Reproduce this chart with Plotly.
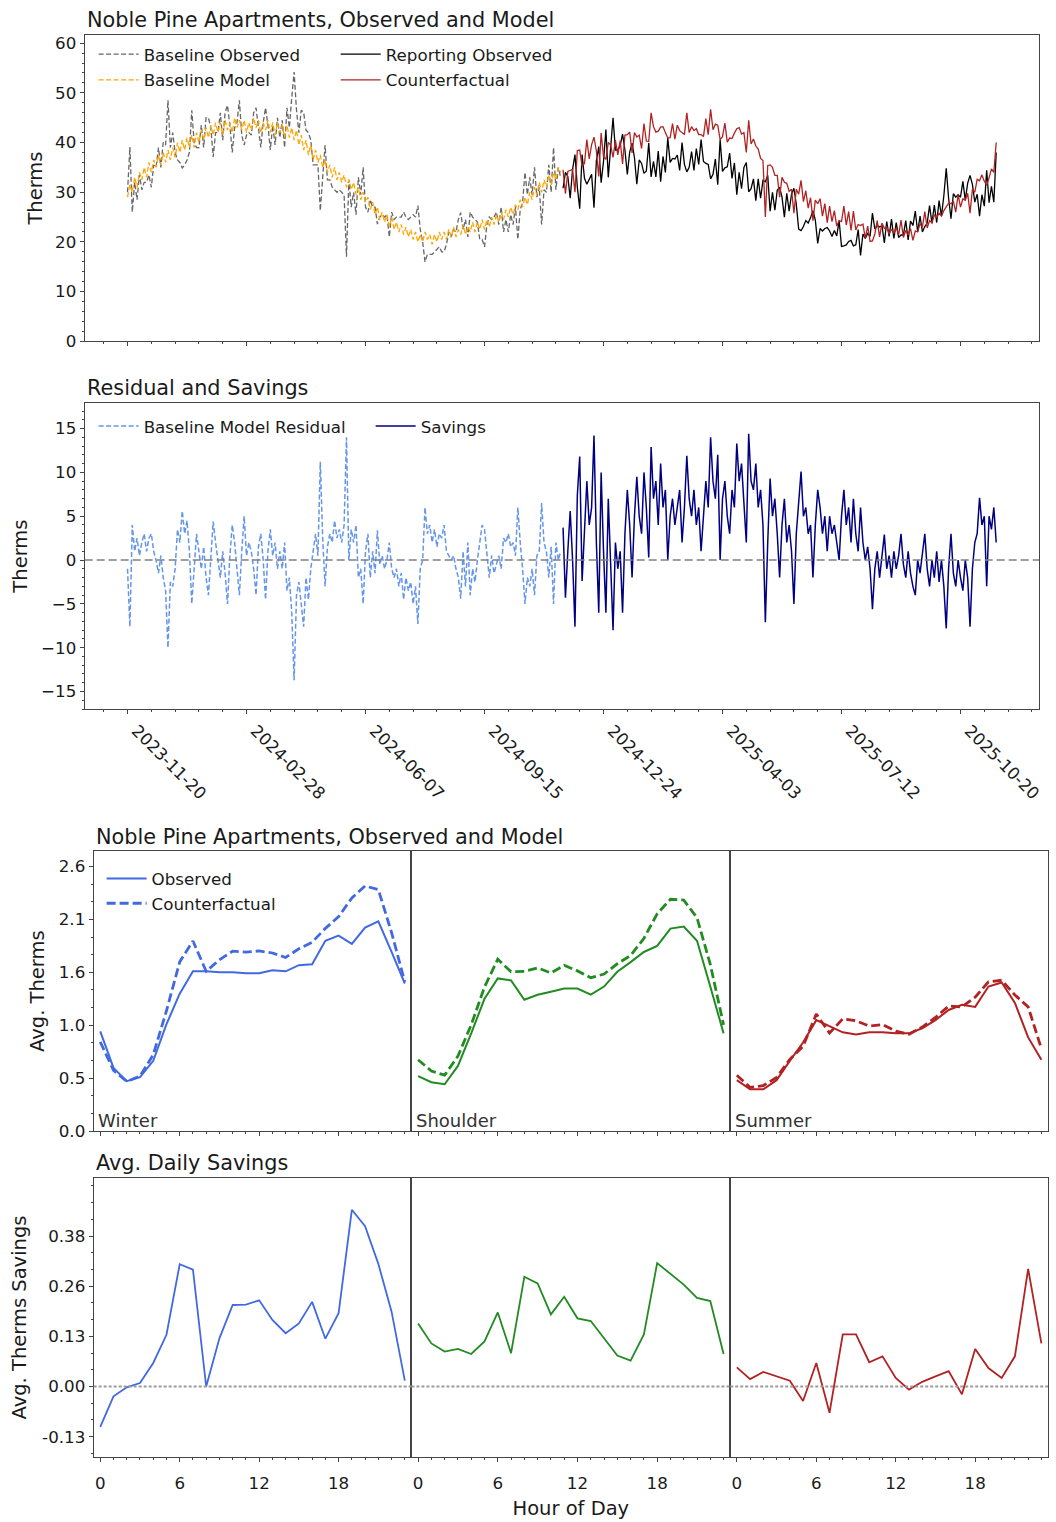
import pandas as pd
import plotly.graph_objects as go

# ---------------- daily series, sampled every 2 days ----------------
BASELINE_START = "2023-11-20"
REPORTING_START = "2024-11-20"
STEP_DAYS = 2

baseline_model = [
    29, 31.5, 30, 33, 31, 34, 32.5, 35, 33, 36,
    34, 36.5, 35, 37.5, 35.5, 38, 36, 38.5, 36.5, 39,
    37, 40, 38, 40.5, 38.5, 41, 39, 41.5, 39, 42,
    40, 42.5, 40.5, 43, 41, 43.5, 41.5, 44, 42, 44,
    41.5, 44.5, 42.5, 44, 42, 45, 43, 44.5, 42.5, 44.5,
    42, 44, 42.5, 45, 43, 44.5, 42, 44, 42.5, 44.5,
    42, 44, 41.5, 44, 42, 43.5, 41, 43.5, 41, 43,
    40.5, 42.5, 39.5, 41.5, 38.5, 40.5, 37.5, 39.5, 36.5, 38.5,
    36, 37.5, 35, 36.5, 34, 35.5, 33, 35, 32.5, 34,
    32, 33.5, 31, 32.5, 30.5, 32, 29.5, 31, 28.5, 30,
    28, 29, 26.5, 28, 25.5, 27, 24.5, 26, 24, 25.5,
    23, 25, 22.5, 24, 22, 23.5, 21.5, 23, 21, 22.5,
    20.5, 22, 20, 21.5, 20, 22, 20.5, 21.5, 19.5, 21.5,
    20, 22, 20.5, 22, 20.5, 22.5, 21, 23, 21, 22.5,
    21.5, 23.5, 21.5, 23, 22, 24, 22, 24, 22.5, 24.5,
    22.5, 24.5, 23, 25, 23.5, 25.5, 24, 26, 24.5, 26.5,
    25, 27, 25.5, 27.5, 26.5, 28.5, 27, 29, 27.5, 30,
    28.5, 31, 29.5, 32, 30, 32.5, 31, 33.5, 31.5, 34,
    32.5, 35, 34,
]
# residual = model - observed
baseline_residual = [
    -1, -7.6, 4, 1, 2.5, 0.5, 2, 3, 1, 2.5,
    3, 1, 0, -1.5, 0.5, -2, -3.5, -10, -2.5, -3,
    -1, 3.5, 2, 5.6, 3, 4.5, 1, -5, -1, 3,
    1, -1, 1.5, -2, -4, 0.5, 4.4, 2, 0, -2,
    1, -1.5, -5, 0.5, 4, 2, -1, -4, 1, 5,
    0.5, 2, 1, -1, -4, 1.5, 3, 0, -4.5, 1,
    3.5, 0.5, 2, -1, 1, -1, 2, -3.5, -2, -6,
    -13.7, -4, -2.5, -5, -7.6, -2, -4.5, -1, 1, 3,
    0.5, 11.2, 2.5, -3, 1.5, 3, 2, 4.5, 2.5, 3.5,
    2, 4, 14, 0, 3.5, 2, 4, -2, -1, -5,
    1, 3, -2, 1, -1.5, 3.4, -0.5, 0.5, -1, 0,
    2, -1, -2, -1, -3, -1.5, -4.5, -2, -3.5, -2.5,
    -5, -3, -7.3, -1, 0, 6, 3, 4, 2, 3.5,
    1.5, 3, 2.5, 4, 1, 0.5, 0, 0.5, -1, -2,
    -4.4, 1, -3, 2, -4, -1, -2.5, 0, 2, 4,
    3.5, 1, -2, 0.5, -1.5, -0.5, 0.5, -1, 2.5, 2,
    3, 1.5, 2, 0.5, 6, 2, -1, -5, -2, -3,
    -1, -4, 0.5, 1, 6.5, 2, 1, -2, 1.5, -5,
    2, 0, 1,
]
reporting_counterfactual = [
    34.5, 29.7, 34.2, 34.4, 34.6, 30.0, 38.4, 38.5, 35.2, 35.8,
    40.6, 36.7, 39.6, 41.1, 38.3, 33.2, 41.9, 37.2, 36.6, 40.0,
    39.5, 37.0, 40.5, 37.5, 40.4, 35.7, 41.5, 41.6, 42.1, 37.9,
    42.0, 41.1, 41.5, 38.8, 43.8, 40.3, 40.2, 46.0, 43.2, 42.1,
    42.3, 43.1, 43.2, 42.0, 40.9, 41.0, 43.8, 40.7, 43.5, 42.4,
    42.0, 41.6, 46.0, 42.0, 43.2, 42.4, 42.8, 41.6, 41.6, 41.2,
    44.8, 41.6, 46.7, 42.6, 43.7, 43.5, 40.6, 41.2, 43.9, 40.1,
    40.9, 40.8, 41.9, 42.8, 43.0, 41.7, 42.0, 38.0, 44.5, 39.7,
    40.7, 39.3, 38.7, 36.8, 36.4, 25.0, 35.4, 35.5, 35.0, 33.4,
    33.4, 29.0, 33.0, 32.0, 31.8, 30.2, 30.6, 25.8, 30.6, 29.6,
    32.4, 28.1, 30.3, 26.8, 28.9, 24.3, 28.4, 27.7, 28.7, 25.2,
    27.7, 23.9, 27.2, 24.1, 26.3, 23.2, 24.3, 24.1, 27.2, 23.4,
    26.1, 22.3, 26.2, 22.4, 23.5, 23.3, 23.6, 20.7, 23.2, 20.1,
    20.2, 21.6, 24.3, 21.0, 23.8, 22.7, 23.1, 21.6, 22.6, 21.7,
    22.9, 21.4, 24.4, 20.9, 22.3, 21.4, 22.7, 20.3, 22.2, 22.0,
    23.7, 23.0, 26.1, 22.8, 24.3, 23.8, 25.4, 24.9, 25.8, 25.2,
    26.3, 27.0, 27.8, 27.7, 28.2, 26.0, 29.5, 27.0, 28.7, 28.4,
    29.8, 25.8, 30.6, 30.0, 32.6, 32.3, 33.5, 32.2, 31.4, 32.9,
    34.7, 34.0, 40.0,
]
# savings = counterfactual - observed
reporting_savings = [
    3.7, -4.3, 1, 5.6, 0, -7.6, 7.4, 11.8, -2.4, 3,
    9, 4, 6, 14.2, 2, -6, 10, 1, -6, 7,
    0, -8, 2, -1, 1, -6, 3, 8, 4, -2,
    5, 9.5, 5, 3, 10, 6, 0.3, 12.9, 7, 9,
    4, 11, 6, 8, 0, 5, 7, 4, 6, 8,
    2, 6, 11.9, 7, 5, 8, 4, 6, 1, 5,
    9, 6, 14, 9, 7, 12, 0, 7, 9, 5,
    3, 8, 6, 13.3, 9, 11, 7, 2, 14.4, 9,
    8, 11, 6, 8, 4, -7.1, 2, 9.3, 5, 7,
    3, -2, 4, 7, 2, 4, 1, -5, 3, 7,
    10.1, 5, 6, 3, 4, -2, 4, 8, 6, 3,
    5, 1, 5, 3, 4, 2, 0, 5, 8, 4,
    6, 2, 7, 3, 1, 6, 2, 0, 1.5, -1,
    -5.6, -1, 1, -2, 0.5, 2.9, -1, 0.5, -2, 1,
    -1, 0.5, 3, -0.5, -2, 1, -1.5, -3, -4, 0,
    -1.5, 1, 3, -1, -3, 0, -2, 1, -2.5, 0,
    -3, -7.8, -1, 3, -1.5, -3, 0, -2, -3.5, 0,
    -2, -7.6, -1, 2, 3, 7.1, 4, 5, -3, 5,
    3.5, 6, 2,
]

# ---------------- hourly load shapes ----------------
hours = list(range(24))
winter_observed = [0.98, 0.62, 0.49, 0.53, 0.69, 1.05, 1.35, 1.57, 1.57, 1.56, 1.56, 1.55,
                   1.55, 1.58, 1.57, 1.63, 1.64, 1.87, 1.92, 1.84, 2.00, 2.06, 1.76, 1.45]
winter_savings = [-0.103, -0.025, -0.002, 0.009, 0.06, 0.132, 0.312, 0.298, 0.0, 0.123, 0.208, 0.209,
                  0.22, 0.17, 0.136, 0.161, 0.216, 0.122, 0.187, 0.451, 0.409, 0.313, 0.191, 0.015]
shoulder_observed = [0.54, 0.48, 0.46, 0.64, 0.96, 1.30, 1.50, 1.48, 1.29, 1.34, 1.37, 1.40,
                     1.40, 1.34, 1.42, 1.565, 1.66, 1.76, 1.82, 1.99, 2.01, 1.87, 1.42, 0.96]
shoulder_savings = [0.161, 0.11, 0.089, 0.096, 0.083, 0.115, 0.189, 0.085, 0.28, 0.263, 0.184, 0.229,
                    0.174, 0.167, 0.123, 0.079, 0.066, 0.133, 0.315, 0.288, 0.26, 0.226, 0.218, 0.083]
summer_observed = [0.50, 0.41, 0.41, 0.50, 0.69, 0.87, 1.09, 1.03, 0.97, 0.95, 0.97, 0.97,
                   0.96, 0.96, 1.01, 1.09, 1.19, 1.24, 1.22, 1.42, 1.46, 1.26, 0.92, 0.70]
summer_savings = [0.049, 0.019, 0.037, 0.026, 0.015, -0.037, 0.06, -0.067, 0.133, 0.133, 0.062, 0.077,
                  0.022, -0.008, 0.012, 0.026, 0.039, -0.02, 0.096, 0.047, 0.022, 0.077, 0.30, 0.11]

hour_ticks = [0, 6, 12, 18]
shape_ticks = [0, 0.52, 1.04, 1.56, 2.08, 2.6]
shape_ticktext = ["0.0", "0.5", "1.0", "1.6", "2.1", "2.6"]
sav_ticks = [-0.128, 0.0, 0.128, 0.256, 0.384]
sav_ticktext = ["-0.13", "0.00", "0.13", "0.26", "0.38"]

# ---------------- derived series ----------------
baseline_dates = pd.date_range(BASELINE_START, periods=len(baseline_model), freq=f"{STEP_DAYS}D")
reporting_dates = pd.date_range(REPORTING_START, periods=len(reporting_counterfactual), freq=f"{STEP_DAYS}D")
baseline_observed = [m - r for m, r in zip(baseline_model, baseline_residual)]
reporting_observed = [c - s for c, s in zip(reporting_counterfactual, reporting_savings)]


def add(a, b):
    return [x + y for x, y in zip(a, b)]


seasons = [
    ("Winter", winter_observed, winter_savings, "#4169E1"),
    ("Shoulder", shoulder_observed, shoulder_savings, "#228B22"),
    ("Summer", summer_observed, summer_savings, "#B22222"),
]

# ---------------- layout helpers ----------------
W, H = 1056, 1522
FONT = "DejaVu Sans"
TXT = "#1a1a1a"
AX = "#444444"
DAY_MS = 86400000


def fx(p):
    return p / W


def fy(p):
    return 1 - p / H


tickfont = dict(family=FONT, size=16.7, color=TXT)
base_axis = dict(showline=True, linecolor=AX, linewidth=1, mirror=True, ticks="outside",
                 ticklen=4, tickwidth=1, tickcolor=AX, showgrid=False, zeroline=False,
                 tickfont=tickfont)


def minor_y(d):
    return dict(ticks="outside", ticklen=2, tickwidth=1, tickcolor=AX, dtick=d, tick0=0, showgrid=False)


fig = go.Figure()

fig.add_trace(go.Scatter(x=baseline_dates, y=baseline_observed, mode="lines", name="Baseline Observed",
                         line=dict(color="#666666", width=1.3, dash="5px,2.5px"),
                         xaxis="x", yaxis="y", legend="legend", legendgroup="a"))
fig.add_trace(go.Scatter(x=baseline_dates, y=baseline_model, mode="lines", name="Baseline Model",
                         line=dict(color="#FFA500", width=1.3, dash="5px,2.5px"),
                         xaxis="x", yaxis="y", legend="legend", legendgroup="b"))
fig.add_trace(go.Scatter(x=reporting_dates, y=reporting_observed, mode="lines", name="Reporting Observed",
                         line=dict(color="#000000", width=1.3),
                         xaxis="x", yaxis="y", legend="legend2", legendgroup="c"))
fig.add_trace(go.Scatter(x=reporting_dates, y=reporting_counterfactual, mode="lines", name="Counterfactual",
                         line=dict(color="#B22222", width=1.3),
                         xaxis="x", yaxis="y", legend="legend2", legendgroup="d"))

fig.add_trace(go.Scatter(x=baseline_dates, y=baseline_residual, mode="lines", name="Baseline Model Residual",
                         line=dict(color="#6495ED", width=1.5, dash="5px,2.5px"),
                         xaxis="x2", yaxis="y2", legend="legend3"))
fig.add_trace(go.Scatter(x=reporting_dates, y=reporting_savings, mode="lines", name="Savings",
                         line=dict(color="#000080", width=1.5),
                         xaxis="x2", yaxis="y2", legend="legend3"))

for i, (name, obs, sav, color) in enumerate(seasons):
    xa_top, ya_top = f"x{3 + i}", f"y{3 + i}"
    xa_bot, ya_bot = f"x{6 + i}", f"y{6 + i}"
    first = i == 0
    fig.add_trace(go.Scatter(x=hours, y=obs, mode="lines", name="Observed",
                             line=dict(color=color, width=2), xaxis=xa_top, yaxis=ya_top,
                             showlegend=first, legend="legend4", legendgroup="obs"))
    fig.add_trace(go.Scatter(x=hours, y=add(obs, sav), mode="lines", name="Counterfactual",
                             line=dict(color=color, width=2.8, dash="9px,4px"), xaxis=xa_top, yaxis=ya_top,
                             showlegend=first, legend="legend4", legendgroup="cf"))
    fig.add_trace(go.Scatter(x=hours, y=sav, mode="lines", name=f"{name} Savings",
                             line=dict(color=color, width=1.8), xaxis=xa_bot, yaxis=ya_bot,
                             showlegend=False))

layout = dict(
    width=W, height=H, margin=dict(l=0, r=0, t=0, b=0),
    paper_bgcolor="white", plot_bgcolor="white",
    font=dict(family=FONT, color=TXT, size=16.7),
)

date_range = ["2023-10-15", "2025-12-25"]
top_xdom = [fx(85), fx(1043)]
date_minor = dict(ticks="outside", ticklen=2, tickcolor=AX, dtick=20 * DAY_MS,
                  tick0=BASELINE_START, showgrid=False)
layout["xaxis"] = dict(base_axis, type="date", domain=top_xdom, anchor="y", range=date_range,
                       tickmode="linear", tick0=BASELINE_START, dtick=100 * DAY_MS, showticklabels=False,
                       minor=date_minor)
layout["yaxis"] = dict(base_axis, domain=[fy(342), fy(33)], anchor="x", range=[0, 61.7], tick0=0, dtick=10,
                       minor=minor_y(2), title=dict(text="Therms", font=dict(size=19.5), standoff=7))
layout["xaxis2"] = dict(base_axis, type="date", domain=top_xdom, anchor="y2", range=date_range,
                        tickmode="linear", tick0=BASELINE_START, dtick=100 * DAY_MS,
                        tickformat="%Y-%m-%d", tickangle=45, ticklabelshift=9,
                        minor=date_minor)
layout["yaxis2"] = dict(base_axis, domain=[fy(713), fy(404)], anchor="x2", range=[-17.04, 17.94], tick0=0,
                        dtick=5, minor=minor_y(1), title=dict(text="Therms", font=dict(size=19.5), standoff=8))

col_edges = [94, 413, 733, 1052]
for i in range(3):
    dom = [fx(col_edges[i]), fx(col_edges[i + 1])]
    for row, (yd, base) in enumerate([([fy(1138), fy(856)], 3), ([fy(1467), fy(1185)], 6)]):
        n = base + i
        xa = dict(base_axis, domain=dom, anchor=f"y{n}", range=[-0.5, 23.5], tickmode="array",
                  tickvals=hour_ticks, showticklabels=(row == 1),
                  minor=dict(ticks="outside", ticklen=2, tickcolor=AX, dtick=1, tick0=0, showgrid=False))
        if row == 1:
            xa["ticklabelstandoff"] = 7
            if i == 1:
                xa["title"] = dict(text="Hour of Day", font=dict(size=19.5), standoff=8)
        ya = dict(base_axis, domain=yd, anchor=f"x{n}")
        if row == 0:
            ya.update(range=[0, 2.75], tickmode="array", tickvals=shape_ticks, ticktext=shape_ticktext)
            if i == 0:
                ya.update(minor=minor_y(0.52 / 3),
                          title=dict(text="Avg. Therms", font=dict(size=19.5), standoff=8))
        else:
            ya.update(range=[-0.181, 0.533], tickmode="array", tickvals=sav_ticks, ticktext=sav_ticktext)
            if i == 0:
                ya.update(minor=minor_y(0.128 / 3),
                          title=dict(text="Avg. Therms Savings", font=dict(size=19.5), standoff=10))
        if i > 0:
            ya.update(showticklabels=False, ticks="")
        layout[f"xaxis{n}"] = xa
        layout[f"yaxis{n}"] = ya

legend_common = dict(bgcolor="rgba(0,0,0,0)", borderwidth=0, xanchor="left", yanchor="top",
                     font=dict(family=FONT, size=16.7, color=TXT), itemwidth=40)
layout["legend"] = dict(legend_common, x=fx(94), y=fy(35), orientation="v", traceorder="grouped",
                        tracegroupgap=1)
layout["legend2"] = dict(legend_common, x=fx(337), y=fy(35), orientation="v", traceorder="grouped",
                         tracegroupgap=1)
layout["legend3"] = dict(legend_common, x=fx(94), y=fy(410), orientation="h", entrywidth=222)
layout["legend4"] = dict(legend_common, x=fx(102), y=fy(866), orientation="v", traceorder="grouped",
                         tracegroupgap=0)

title_font = dict(family=FONT, size=20.8, color=TXT)
ann = []
for text, x, y in [("Noble Pine Apartments, Observed and Model", 85, 18),
                   ("Residual and Savings", 85, 389),
                   ("Noble Pine Apartments, Observed and Model", 94, 842),
                   ("Avg. Daily Savings", 94, 1170)]:
    ann.append(dict(text=text, x=fx(x), y=fy(y), xref="paper", yref="paper", xanchor="left",
                    yanchor="middle", showarrow=False, font=title_font))
for (name, _, _, _), x in zip(seasons, [96, 416, 736]):
    ann.append(dict(text=name, x=fx(x), y=fy(1127), xref="paper", yref="paper", xanchor="left",
                    yanchor="middle", showarrow=False, font=dict(family=FONT, size=18, color="#333333")))
layout["annotations"] = ann

shapes = [dict(type="line", xref="x2 domain", yref="y2", x0=0, x1=1, y0=0, y1=0,
               line=dict(color="#808080", width=1.5, dash="8px,4px"))]
for n in (6, 7, 8):
    shapes.append(dict(type="line", xref=f"x{n} domain", yref=f"y{n}", x0=0, x1=1, y0=0, y1=0,
                       line=dict(color="#9a9a9a", width=2, dash="3px,2px")))
layout["shapes"] = shapes

fig.update_layout(layout)
page_fix = ("document.documentElement.style.margin='0';document.documentElement.style.overflow='hidden';"
            "document.body.style.margin='0';document.body.style.overflow='hidden';")
fig.write_html("out.html", config={"displayModeBar": False}, post_script=page_fix)
